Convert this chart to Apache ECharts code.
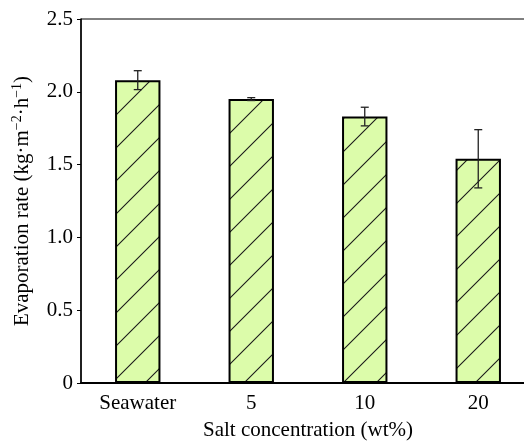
<!DOCTYPE html>
<html><head><meta charset="utf-8">
<script src="https://cdn.jsdelivr.net/npm/echarts@6/dist/echarts.min.js"></script>
<style>html,body{margin:0;padding:0;background:#fff}#c{width:524px;height:441px}</style>
</head><body><div id="c"></div>
<script>
const categories = ['Seawater', '5', '10', '20'];
const rates = [2.08, 1.95, 1.83, 1.54];
const errors = [0.065, 0.01, 0.064, 0.2];
const yTicks = [0, 0.5, 1.0, 1.5, 2.0, 2.5];

function hatch() {
  const s = 33;
  const c = document.createElement('canvas');
  c.width = s; c.height = s;
  const g = c.getContext('2d');
  g.fillStyle = '#dcfcaa';
  g.fillRect(0, 0, s, s);
  g.strokeStyle = '#1a1a1a';
  g.lineWidth = 1.1;
  g.beginPath();
  g.moveTo(-2, s + 2); g.lineTo(s + 2, -2);
  g.moveTo(-2, 2); g.lineTo(2, -2);
  g.moveTo(s - 2, s + 2); g.lineTo(s + 2, s - 2);
  g.stroke();
  return c;
}

const font = 'Liberation Serif';
const fs = 21;
const chart = echarts.init(document.getElementById('c'), null, {renderer: 'canvas'});
chart.setOption({
  animation: false,
  textStyle: {fontFamily: font},
  grid: {left: 81, top: 19, width: 454, height: 364, outerBoundsMode: 'none', containLabel: false,
    show: true, borderColor: '#000', borderWidth: 1, backgroundColor: 'transparent'},
  xAxis: {
    type: 'category', data: categories,
    axisLine: {lineStyle: {color: '#000', width: 2}},
    axisTick: {show: false},
    axisLabel: {color: '#000', fontSize: fs, fontFamily: font, margin: 10},
    name: 'Salt concentration (wt%)', nameLocation: 'middle', nameGap: 37,
    nameTextStyle: {color: '#000', fontSize: fs, fontFamily: font}
  },
  yAxis: {
    type: 'value', min: 0, max: 2.5, interval: 0.5,
    axisLine: {show: true, lineStyle: {color: '#000', width: 1.5}},
    axisTick: {show: true, inside: false, length: 4, lineStyle: {color: '#000'}},
    splitLine: {show: false},
    axisLabel: {color: '#000', fontSize: fs, fontFamily: font, margin: 8,
      formatter: v => v === 0 ? '0' : v.toFixed(1)},
    name: 'Evaporation rate (kg·m{sup|−2}·h{sup|−1})', nameLocation: 'middle', nameGap: 38,
    nameTextStyle: {color: '#000', fontSize: fs, fontFamily: font, lineHeight: 26,
      rich: {sup: {fontSize: 14, fontFamily: font, color: '#000', verticalAlign: 'top', lineHeight: 26, padding: [0,0,10,0]}}}
  },
  series: [{
    type: 'bar', data: rates, barWidth: '40%',
    itemStyle: {color: {image: hatch(), repeat: 'repeat'}, borderColor: '#000', borderWidth: 2}
  }, {
    type: 'custom',
    data: rates.map((v, i) => [i, v - errors[i], v + errors[i]]),
    renderItem: function (params, api) {
      const lo = api.coord([api.value(0), api.value(1)]);
      const hi = api.coord([api.value(0), api.value(2)]);
      const w = 4;
      const st = {stroke: '#222', lineWidth: 1.3};
      return {type: 'group', children: [
        {type: 'line', shape: {x1: hi[0], y1: hi[1], x2: lo[0], y2: lo[1]}, style: st},
        {type: 'line', shape: {x1: hi[0]-w, y1: hi[1], x2: hi[0]+w, y2: hi[1]}, style: st},
        {type: 'line', shape: {x1: lo[0]-w, y1: lo[1], x2: lo[0]+w, y2: lo[1]}, style: st}
      ]};
    },
    z: 10
  }]
});
</script></body></html>
